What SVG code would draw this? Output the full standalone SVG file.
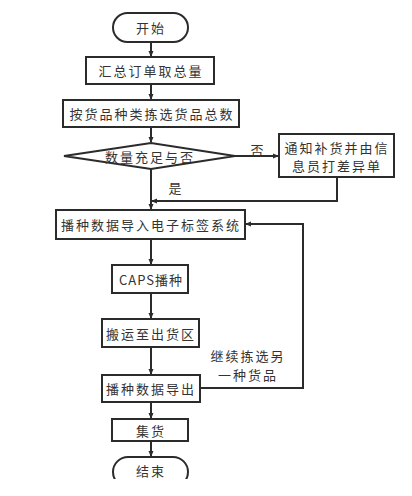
<svg xmlns="http://www.w3.org/2000/svg" width="412" height="496" viewBox="0 0 412 496">
<style>
.b{fill:#fff;stroke:#2b2b2b;stroke-width:2}
.t{font-family:"Noto Sans CJK SC","Liberation Sans",sans-serif;font-size:13px;fill:#333;letter-spacing:2px;text-anchor:middle;dominant-baseline:central}
.c{fill:none;stroke:#2b2b2b;stroke-width:2}
</style>
<defs>
<marker id="a" markerWidth="6" markerHeight="6" refX="5" refY="3" orient="auto" markerUnits="userSpaceOnUse"><path d="M0,0.5 L6,3 L0,5.5 Z" fill="#2b2b2b"/></marker>
<clipPath id="cl"><rect x="0" y="0" width="412" height="479"/></clipPath>
</defs>
<rect width="412" height="496" fill="#fff"/>
<g id="connectors">
<path class="c" d="M151,41 V56" marker-end="url(#a)"/>
<path class="c" d="M151,84 V99" marker-end="url(#a)"/>
<path class="c" d="M151,127 V142" marker-end="url(#a)"/>
<path class="c" d="M151,169 V209" marker-end="url(#a)"/>
<path class="c" d="M235,156 H278" marker-end="url(#a)"/>
<path class="c" d="M337,177 V201 H152" marker-end="url(#a)"/>
<path class="c" d="M151,239 V264" marker-end="url(#a)"/>
<path class="c" d="M151,293 V318" marker-end="url(#a)"/>
<path class="c" d="M151,347 V374" marker-end="url(#a)"/>
<path class="c" d="M200,388 H303 V224 H246" marker-end="url(#a)"/>
<path class="c" d="M151,402 V418" marker-end="url(#a)"/>
<path class="c" d="M151,441 V456" marker-end="url(#a)"/>
<text class="t" x="258" y="149">否</text>
<text class="t" x="176" y="187">是</text>
<text class="t" x="248" y="355">继续拣选另</text>
<text class="t" x="248" y="374">一种货品</text>
</g>
<g id="start"><rect class="b" x="113" y="13" width="75" height="29" rx="14.5"/><text class="t" x="151" y="27">开始</text></g>
<g id="n1"><rect class="b" x="86" y="57" width="128" height="27"/><text class="t" x="151" y="70.5">汇总订单取总量</text></g>
<g id="n2"><rect class="b" x="63" y="100" width="176" height="27"/><text class="t" x="152" y="113.5">按货品种类拣选货品总数</text></g>
<g id="d1"><path class="b" d="M64,156 L151,143 L235,156 L151,169 Z"/><text class="t" x="150" y="156">数量充足与否</text></g>
<g id="n3"><rect class="b" x="279" y="134" width="115" height="43"/><text class="t" x="337" y="147">通知补货并由信</text><text class="t" x="337" y="165">息员打差异单</text></g>
<g id="n4"><rect class="b" x="56" y="210" width="189" height="29"/><text class="t" x="151" y="224.5">播种数据导入电子标签系统</text></g>
<g id="n5"><rect class="b" x="112" y="265" width="76" height="28"/><text class="t" x="151" y="279" style="letter-spacing:1px">CAPS播种</text></g>
<g id="n6"><rect class="b" x="102" y="319" width="97" height="28"/><text class="t" x="151" y="333">搬运至出货区</text></g>
<g id="n7"><rect class="b" x="102" y="375" width="98" height="27"/><text class="t" x="151" y="388.5">播种数据导出</text></g>
<g id="n8"><rect class="b" x="112" y="419" width="76" height="22"/><text class="t" x="151" y="430">集货</text></g>
<g id="end" clip-path="url(#cl)"><rect class="b" x="113" y="457" width="75" height="30" rx="15"/><text class="t" x="151" y="470">结束</text></g>
</svg>
